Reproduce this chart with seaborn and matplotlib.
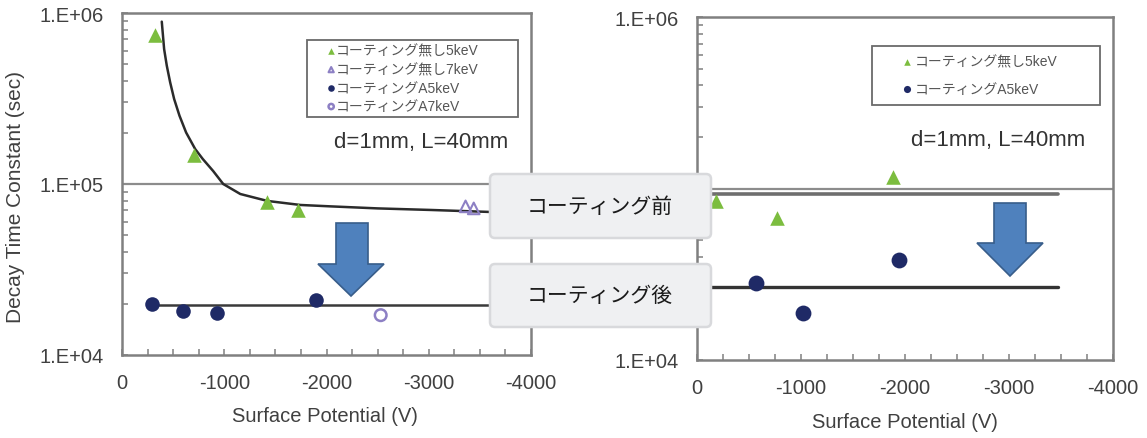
import numpy as np
import matplotlib
matplotlib.use("Agg")
import matplotlib.pyplot as plt
import seaborn as sns
from matplotlib.patches import FancyBboxPatch, Polygon
from matplotlib.ticker import FixedLocator, LogLocator, NullFormatter, MultipleLocator

# ---------------- data (left chart) ----------------
L_none5_v = [-320, -700, -1420, -1720]
L_none5_t = [7.4e5, 1.48e5, 7.85e4, 7.05e4]
L_none7_v = [-3360, -3440]
L_none7_t = [7.4e4, 7.2e4]
L_a5_v = [-290, -600, -930, -1900]
L_a5_t = [1.99e4, 1.81e4, 1.76e4, 2.1e4]
L_a7_v = [-2530]
L_a7_t = [1.71e4]
# fitted curve
L_fit_v = [-389, -412, -438, -471, -510, -562, -627, -716, -790, -892, -990, -1157,
           -1422, -1745, -2039, -2500, -3020, -3608]
L_fit_t = [8.9e5, 6.15e5, 4.92e5, 3.93e5, 3.14e5, 2.51e5, 2.0e5, 1.6e5, 1.4e5, 1.19e5, 1.0e5, 8.74e4,
           7.96e4, 7.54e4, 7.4e4, 7.2e4, 7.05e4, 6.86e4]
# average line after coating
L_avg_v = [-290, -3610]
L_avg_t = [1.96e4, 1.96e4]

# ---------------- data (right chart) ----------------
R_none5_v = [-180, -770, -1880]
R_none5_t = [8.45e4, 6.73e4, 1.17e5]
R_a5_v = [-570, -1020, -1940]
R_a5_t = [2.81e4, 1.88e4, 3.83e4]
R_before_v = [0, -3470]
R_before_t = [9.3e4, 9.3e4]
R_after_v = [0, -3470]
R_after_t = [2.67e4, 2.67e4]

# ---------------- labels ----------------
lab_none5 = "コーティング無し5keV"
lab_none7 = "コーティング無し7keV"
lab_a5 = "コーティングA5keV"
lab_a7 = "コーティングA7keV"
ytick_vals = [1e4, 1e5, 1e6]
ytick_labels_L = ["1.E+04", "1.E+05", "1.E+06"]
ytick_labels_R = ["1.E+04", "", "1.E+06"]   # 1.E+05 is hidden behind the label box
xtick_vals = [0, -1000, -2000, -3000, -4000]
xtick_labels = ["0", "-1000", "-2000", "-3000", "-4000"]
cond_text = "d=1mm, L=40mm"
box_texts = ["コーティング前", "コーティング後"]

GREEN = "#7cbd3f"
NAVY = "#1f2a66"
LAV = "#8d80c4"
TXT = "#404040"

sns.set_theme(style="white")
plt.rcParams["font.family"] = ["Liberation Sans", "Noto Sans CJK JP", "DejaVu Sans"]

W, H = 1147, 439
fig = plt.figure(figsize=(W / 100, H / 100), dpi=100)
axL = fig.add_axes([122 / W, (H - 356) / H, 409 / W, 342 / H])
axR = fig.add_axes([697 / W, (H - 361) / H, 416 / W, 343 / H])


def style(ax, ylabels):
    ax.set_yscale("log")
    ax.set_ylim(1e4, 1e6)
    ax.set_xlim(0, -4000)
    ax.yaxis.set_major_locator(FixedLocator(ytick_vals))
    ax.set_yticklabels(ylabels)
    ax.yaxis.set_minor_locator(LogLocator(base=10, subs=np.arange(2, 10)))
    ax.yaxis.set_minor_formatter(NullFormatter())
    ax.set_xticks(xtick_vals)
    ax.set_xticklabels(xtick_labels)
    ax.xaxis.set_minor_locator(MultipleLocator(250))
    ax.tick_params(which="both", direction="in", length=4, width=1.2, color="#8a8a8a",
                   labelsize=14.5, labelcolor=TXT, bottom=True, left=True, top=False, right=False)
    ax.tick_params(axis="both", which="major", pad=13)
    for s in ax.spines.values():
        s.set_visible(True)
        s.set_color("#808080")
        s.set_linewidth(1.8)
    ax.axhline(1e5, color="#8c8c8c", lw=1.6, zorder=1)
    ax.set_facecolor("white")


style(axL, ytick_labels_L)
style(axR, ytick_labels_R)

# ---- left chart ----
sns.lineplot(x=L_fit_v, y=L_fit_t, ax=axL, color="#2b2b2b", lw=1.8, sort=False, estimator=None, zorder=3)
sns.lineplot(x=L_avg_v, y=L_avg_t, ax=axL, color="#3a3a3a", lw=1.8, sort=False, estimator=None, zorder=3)
sns.scatterplot(x=L_none5_v, y=L_none5_t, ax=axL, marker="^", s=110, color=GREEN, edgecolor=GREEN,
                linewidth=0, label=lab_none5, zorder=5)
sns.scatterplot(x=L_none7_v, y=L_none7_t, ax=axL, marker="^", s=70, facecolor="none", edgecolor=LAV,
                linewidth=1.5, label=lab_none7, zorder=5)
sns.scatterplot(x=L_a5_v, y=L_a5_t, ax=axL, marker="o", s=110, color=NAVY, edgecolor=NAVY,
                linewidth=0, label=lab_a5, zorder=5)
sns.scatterplot(x=L_a7_v, y=L_a7_t, ax=axL, marker="o", s=70, facecolor="none", edgecolor=LAV,
                linewidth=1.8, label=lab_a7, zorder=5)

# ---- right chart ----
sns.lineplot(x=R_before_v, y=R_before_t, ax=axR, color="#6e6e6e", lw=2.6, sort=False, estimator=None, zorder=3)
sns.lineplot(x=R_after_v, y=R_after_t, ax=axR, color="#333333", lw=2.4, sort=False, estimator=None, zorder=3)
sns.scatterplot(x=R_none5_v, y=R_none5_t, ax=axR, marker="^", s=110, color=GREEN, edgecolor=GREEN,
                linewidth=0, label=lab_none5, zorder=5)
sns.scatterplot(x=R_a5_v, y=R_a5_t, ax=axR, marker="o", s=130, color=NAVY, edgecolor=NAVY,
                linewidth=0, label=lab_a5, zorder=5)

# ---- legends ----
FS_LEG = 10
legL = axL.legend(loc="upper left", bbox_to_anchor=(0.452, 0.70, 0.516, 0.222), mode="expand",
                  borderaxespad=0, fontsize=FS_LEG, labelcolor="#555555", frameon=True, fancybox=False,
                  edgecolor="#6a6a6a", framealpha=1, borderpad=0.3, handlelength=2.9,
                  handletextpad=-1.1, labelspacing=0.32, markerscale=0.45, scatterpoints=1)
legL.get_frame().set_linewidth(1.3)
legR = axR.legend(loc="upper left", bbox_to_anchor=(0.4207, 0.70, 0.548, 0.216), mode="expand",
                  borderaxespad=0, fontsize=FS_LEG, labelcolor="#555555", frameon=True, fancybox=False,
                  edgecolor="#6a6a6a", framealpha=1, borderpad=0.65, handlelength=3.7,
                  handletextpad=-1.3, labelspacing=0.95, markerscale=0.45, scatterpoints=1)
legR.get_frame().set_linewidth(1.3)

# ---- annotations ----
axL.text(0.731, 0.623, cond_text, transform=axL.transAxes, ha="center", va="center", fontsize=16, color="#333333")
axR.text(0.724, 0.644, cond_text, transform=axR.transAxes, ha="center", va="center", fontsize=16, color="#333333")

axL.set_ylabel("Decay Time Constant (sec)", fontsize=15, color=TXT)
axL.yaxis.set_label_coords(-0.237, 0.465)
axL.set_xlabel("Surface Potential (V)", fontsize=14.5, color=TXT)
axL.xaxis.set_label_coords(0.496, -0.149)
axR.set_xlabel("Surface Potential (V)", fontsize=14.5, color=TXT)
axR.xaxis.set_label_coords(0.5, -0.152)
axR.set_ylabel("")

# ---- overlay: arrows and boxes ----
ov = fig.add_axes([0, 0, 1, 1], zorder=10)
ov.set_xlim(0, W)
ov.set_ylim(H, 0)
ov.axis("off")
ov.patch.set_alpha(0)

arrow_fc, arrow_ec = "#4f81bd", "#385d8a"
ov.add_patch(Polygon([(336, 224), (368, 224), (368, 265), (384, 265), (351, 297), (318, 265), (336, 265)],
                     closed=True, fc=arrow_fc, ec=arrow_ec, lw=1.2))
ov.add_patch(Polygon([(994, 204), (1026, 204), (1026, 244), (1043, 244), (1010, 277), (977, 244), (994, 244)],
                     closed=True, fc=arrow_fc, ec=arrow_ec, lw=1.2))

for (y0, y1), t in zip([(175, 239), (265, 328)], box_texts):
    ov.add_patch(FancyBboxPatch((490, y0), 221, y1 - y0, boxstyle="round,pad=0,rounding_size=5",
                                fc="#eff0f2", ec="#d8d9dc", lw=1.8))
    ov.text(600, (y0 + y1) / 2, t, ha="center", va="center", fontsize=15, color="#1a1a1a",
            family=["Noto Sans CJK JP", "DejaVu Sans"])

fig.savefig("out.png", dpi=100)
